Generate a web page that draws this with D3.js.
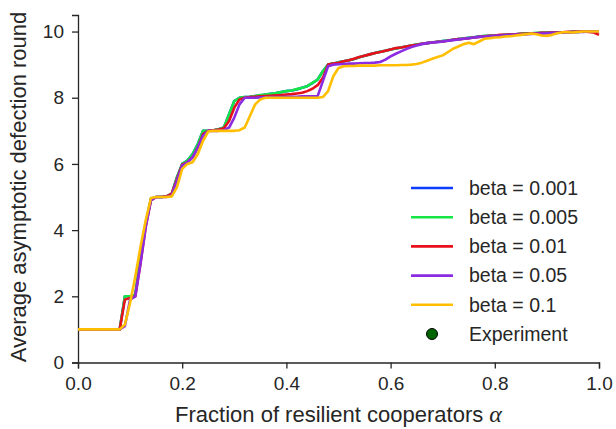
<!DOCTYPE html>
<html>
<head>
<meta charset="utf-8">
<script src="https://cdn.jsdelivr.net/npm/d3@7"></script>
<style>
  body { margin: 0; background: #fff; }
  svg { display: block; font-family: "Liberation Sans", Arial, sans-serif; }
</style>
</head>
<body>
<div id="chart"></div>
<script>
// fraction of resilient cooperators, sampled every 0.01
const alpha = [
  0.00,0.01,0.02,0.03,0.04,0.05,0.06,0.07,0.08,0.09,
  0.10,0.11,0.12,0.13,0.14,0.15,0.16,0.17,0.18,0.19,
  0.20,0.21,0.22,0.23,0.24,0.25,0.26,0.27,0.28,0.29,
  0.30,0.31,0.32,0.33,0.34,0.35,0.36,0.37,0.38,0.39,
  0.40,0.41,0.42,0.43,0.44,0.45,0.46,0.47,0.48,0.49,
  0.50,0.51,0.52,0.53,0.54,0.55,0.56,0.57,0.58,0.59,
  0.60,0.61,0.62,0.63,0.64,0.65,0.66,0.67,0.68,0.69,
  0.70,0.71,0.72,0.73,0.74,0.75,0.76,0.77,0.78,0.79,
  0.80,0.81,0.82,0.83,0.84,0.85,0.86,0.87,0.88,0.89,
  0.90,0.91,0.92,0.93,0.94,0.95,0.96,0.97,0.98,0.99,
  1.00
];

const beta0001 = [
  1,1,1,1,1,1,1,1,1,2.0,
  2.0,2.05,3.2,4.2,4.95,5.0,5.0,5.02,5.1,5.6,
  6.0,6.1,6.3,6.6,7.0,7.0,7.02,7.05,7.1,7.5,
  7.9,8.0,8.02,8.03,8.05,8.07,8.1,8.12,8.14,8.17,
  8.2,8.22,8.25,8.3,8.35,8.44,8.55,8.8,9.0,9.03,
  9.07,9.1,9.13,9.17,9.22,9.27,9.31,9.35,9.39,9.42,
  9.46,9.49,9.52,9.55,9.58,9.61,9.63,9.65,9.67,9.69,
  9.71,9.73,9.75,9.77,9.79,9.81,9.83,9.85,9.86,9.87,
  9.88,9.89,9.9,9.91,9.92,9.93,9.94,9.95,9.95,9.96,
  9.96,9.97,9.97,9.98,9.98,9.99,9.99,10.0,10.0,10.0,
  10.0
];

const beta0005 = [
  1,1,1,1,1,1,1,1,1,2.0,
  2.0,2.05,3.2,4.2,4.95,5.0,5.0,5.02,5.1,5.6,
  6.0,6.1,6.3,6.6,7.0,7.0,7.02,7.05,7.1,7.5,
  7.9,8.0,8.02,8.03,8.05,8.08,8.1,8.12,8.14,8.17,
  8.2,8.22,8.26,8.3,8.35,8.45,8.55,8.8,9.0,9.03,
  9.07,9.1,9.13,9.17,9.22,9.27,9.31,9.35,9.39,9.42,
  9.46,9.49,9.52,9.55,9.58,9.61,9.63,9.65,9.67,9.69,
  9.71,9.73,9.75,9.77,9.79,9.81,9.83,9.85,9.87,9.87,
  9.88,9.89,9.9,9.91,9.92,9.93,9.94,9.95,9.96,9.96,
  9.97,9.97,9.98,9.98,9.98,9.99,9.99,10.0,10.0,10.0,
  10.0
];

const beta001 = [
  1,1,1,1,1,1,1,1,1,1.9,
  1.95,2.0,3.0,4.1,4.9,5.0,5.0,5.02,5.1,5.55,
  5.98,6.05,6.2,6.5,6.9,7.0,7.02,7.04,7.08,7.3,
  7.7,7.95,8.0,8.02,8.03,8.04,8.05,8.06,8.07,8.08,
  8.1,8.11,8.13,8.15,8.2,8.27,8.38,8.6,9.0,9.03,
  9.06,9.1,9.13,9.18,9.23,9.27,9.31,9.35,9.38,9.42,
  9.46,9.5,9.52,9.55,9.58,9.6,9.63,9.65,9.67,9.69,
  9.7,9.72,9.75,9.77,9.78,9.8,9.82,9.84,9.86,9.87,
  9.88,9.9,9.9,9.91,9.92,9.93,9.93,9.94,9.95,9.96,
  9.96,9.97,9.97,9.98,9.99,9.99,10.0,10.0,9.99,9.97,
  9.9
];

const beta005 = [
  1,1,1,1,1,1,1,1,1,1.1,
  1.9,2.0,3.0,4.1,4.9,5.0,5.0,5.0,5.05,5.5,
  5.95,6.05,6.2,6.5,6.85,7.0,7.0,7.0,7.02,7.1,
  7.4,7.8,8.0,8.0,8.0,8.01,8.01,8.02,8.02,8.02,
  8.03,8.03,8.03,8.04,8.04,8.04,8.05,8.5,8.95,9.0,
  9.01,9.02,9.03,9.03,9.04,9.05,9.05,9.06,9.08,9.15,
  9.25,9.33,9.4,9.47,9.53,9.58,9.62,9.65,9.67,9.68,
  9.7,9.72,9.74,9.76,9.78,9.8,9.82,9.84,9.85,9.86,
  9.87,9.88,9.89,9.9,9.91,9.91,9.92,9.93,9.94,9.94,
  9.95,9.96,9.96,9.97,9.97,9.98,9.99,9.99,10.0,10.0,
  10.0
];

const beta01 = [
  1,1,1,1,1,1,1,1,1,1.15,
  1.8,2.6,3.5,4.3,4.97,5.0,5.0,5.0,5.02,5.3,
  5.85,6.0,6.05,6.3,6.7,6.98,7.0,7.0,7.0,7.0,
  7.0,7.02,7.1,7.45,7.8,7.95,8.0,8.0,8.0,8.0,
  8.0,8.0,8.0,8.0,8.0,8.0,8.0,8.02,8.2,8.65,
  8.9,8.95,8.96,8.96,8.97,8.97,8.97,8.97,8.98,8.98,
  8.98,8.98,8.99,8.99,9.0,9.02,9.06,9.12,9.18,9.23,
  9.28,9.38,9.48,9.55,9.62,9.66,9.62,9.7,9.78,9.8,
  9.82,9.83,9.85,9.86,9.88,9.9,9.92,9.94,9.92,9.88,
  9.87,9.9,9.95,9.98,9.98,9.97,9.99,10.0,10.0,10.0,
  10.0
];

// experiment points (none visible in the plotted range)
const experiment = [];

const seriesNames = ["beta = 0.001", "beta = 0.005", "beta = 0.01", "beta = 0.05", "beta = 0.1"];
const seriesValues = [beta0001, beta0005, beta001, beta005, beta01];
const seriesColors = ["#0b3cff", "#14e645", "#e8101a", "#8b2be2", "#ffbf00"];

const xTicks = [0, 0.2, 0.4, 0.6, 0.8, 1.0];
const yTicks = [0, 2, 4, 6, 8, 10];

const W = 616, H = 429;
const margin = { top: 15, right: 17, bottom: 66.5, left: 78 };
const width = W - margin.left - margin.right,
      height = H - margin.top - margin.bottom;

const textColor = "#262626";

const svg = d3.select("#chart").append("svg")
    .attr("width", W)
    .attr("height", H);

const g = svg.append("g")
    .attr("transform", `translate(${margin.left},${margin.top})`);

const x = d3.scaleLinear().domain([0, 1]).range([0, width]);
const y = d3.scaleLinear().domain([0, 10.5]).range([height, 0]);

// axes (bottom and left only, ticks outward)
const xAxis = g.append("g")
    .attr("transform", `translate(0,${height})`)
    .call(d3.axisBottom(x).tickValues(xTicks).tickFormat(d3.format(".1f")).tickSizeOuter(0).tickSize(6).tickPadding(8));

const yAxis = g.append("g")
    .call(d3.axisLeft(y).tickValues(yTicks).tickFormat(d3.format("d")).tickSizeOuter(0).tickSize(6).tickPadding(8));

[xAxis, yAxis].forEach(a => {
  a.select(".domain").attr("stroke", "#262626").attr("stroke-width", 1.3);
  a.selectAll(".tick line").attr("stroke", "#262626").attr("stroke-width", 1.3);
  a.selectAll(".tick text").attr("fill", textColor).style("font-size", "19px");
});

// lines
const line = d3.line()
    .x((d, i) => x(alpha[i]))
    .y(d => y(d));

seriesValues.forEach((vals, k) => {
  g.append("path")
      .datum(vals)
      .attr("fill", "none")
      .attr("stroke", seriesColors[k])
      .attr("stroke-width", 2.6)
      .attr("stroke-linejoin", "round")
      .attr("d", line);
});

g.selectAll(".exp")
  .data(experiment)
  .enter().append("circle")
    .attr("class", "exp")
    .attr("cx", d => x(d[0]))
    .attr("cy", d => y(d[1]))
    .attr("r", 5.5)
    .attr("fill", "#006400")
    .attr("stroke", "#000");

// axis labels
svg.append("text")
    .attr("x", margin.left + width / 2)
    .attr("y", 422)
    .attr("text-anchor", "middle")
    .attr("fill", textColor)
    .style("font-size", "22px")
    .text("Fraction of resilient cooperators ")
  .append("tspan")
    .style("font-family", "'Liberation Serif', serif")
    .style("font-style", "italic")
    .style("font-size", "24px")
    .text("α");

svg.append("text")
    .attr("transform", "translate(26,187) rotate(-90)")
    .attr("text-anchor", "middle")
    .attr("fill", textColor)
    .style("font-size", "22px")
    .text("Average asymptotic defection round");

// legend
const legend = svg.append("g").attr("transform", "translate(411,188)");
const rowH = 29.2;

seriesNames.forEach((name, k) => {
  const row = legend.append("g").attr("transform", `translate(0,${k * rowH})`);
  row.append("line")
      .attr("x1", 0).attr("x2", 42)
      .attr("stroke", seriesColors[k])
      .attr("stroke-width", 2.6);
  row.append("text")
      .attr("x", 58).attr("dy", "0.35em")
      .attr("fill", textColor)
      .style("font-size", "19.5px")
      .text(name);
});

const expRow = legend.append("g").attr("transform", `translate(0,${seriesNames.length * rowH})`);
expRow.append("circle")
    .attr("cx", 21).attr("r", 5.5)
    .attr("fill", "#006400")
    .attr("stroke", "#000")
    .attr("stroke-width", 1);
expRow.append("text")
    .attr("x", 58).attr("dy", "0.35em")
    .attr("fill", textColor)
    .style("font-size", "19.5px")
    .text("Experiment");
</script>
</body>
</html>
